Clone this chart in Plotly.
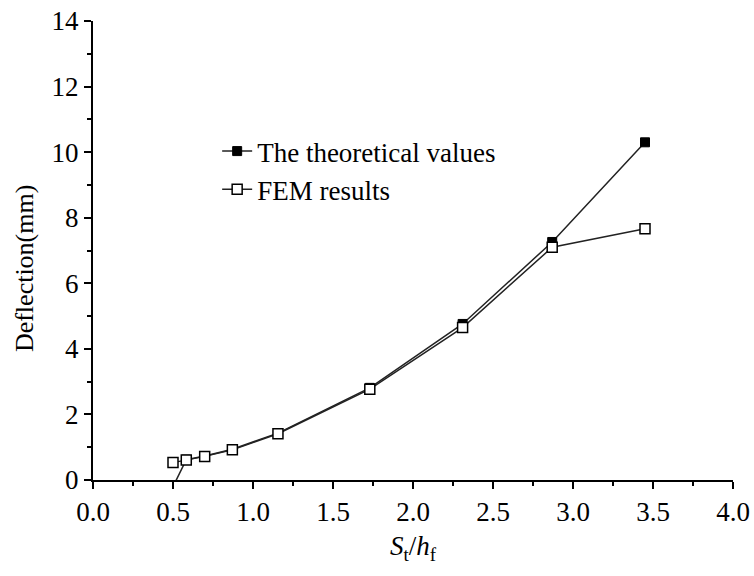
import plotly.graph_objects as go

ratio = [0.47, 0.583, 0.698, 0.871, 1.156, 1.73, 2.31, 2.87, 3.45]
theory = [-0.5, 0.62, 0.73, 0.94, 1.43, 2.81, 4.76, 7.26, 10.3]
fem_ratio = [0.5, 0.583, 0.698, 0.871, 1.156, 1.73, 2.31, 2.87, 3.45]
fem = [0.53, 0.61, 0.72, 0.92, 1.41, 2.77, 4.65, 7.1, 7.66]

font = "Liberation Serif, Times New Roman, serif"

fig = go.Figure()
fig.add_trace(go.Scatter(
    x=ratio, y=theory, mode="lines+markers", name="The theoretical values",
    line=dict(color="#222", width=1.5),
    marker=dict(symbol="square", size=9, color="black", line=dict(color="black", width=1)),
    cliponaxis=True,
))
fig.add_trace(go.Scatter(
    x=fem_ratio, y=fem, mode="lines+markers", name="FEM results",
    line=dict(color="#222", width=1.5),
    marker=dict(symbol="square", size=10, color="white", line=dict(color="black", width=1.5)),
    cliponaxis=True,
))

axis_common = dict(
    showline=True, linecolor="black", linewidth=2, mirror=False,
    ticks="outside", ticklen=7, tickwidth=2, tickcolor="black",
    showgrid=False, zeroline=False, automargin=False,
    tickfont=dict(family=font, size=27, color="black"),
)

fig.update_layout(
    width=754, height=576,
    margin=dict(l=93, r=21, t=21, b=96),
    plot_bgcolor="white", paper_bgcolor="white",
    font=dict(family=font, color="black"),
    xaxis=dict(
        range=[0, 4.0], tickvals=[0, 0.5, 1, 1.5, 2, 2.5, 3, 3.5, 4],
        ticktext=["0.0", "0.5", "1.0", "1.5", "2.0", "2.5", "3.0", "3.5", "4.0"],
        minor=dict(tickvals=[0.25, 0.75, 1.25, 1.75, 2.25, 2.75, 3.25, 3.75],
                   ticks="outside", ticklen=4, tickwidth=2, tickcolor="black"),
        title=dict(text="<i>S</i><sub>t</sub>/<i>h</i><sub>f</sub>",
                   font=dict(family=font, size=27, color="black"), standoff=10),
        **axis_common,
    ),
    yaxis=dict(
        range=[0, 14], tickvals=[0, 2, 4, 6, 8, 10, 12, 14],
        minor=dict(tickvals=[1, 3, 5, 7, 9, 11, 13],
                   ticks="outside", ticklen=4, tickwidth=2, tickcolor="black"),
        **axis_common,
    ),
    legend=dict(
        x=0.194, y=0.769, xanchor="left", yanchor="top",
        bgcolor="rgba(0,0,0,0)", borderwidth=0,
        font=dict(family=font, size=27, color="black"),
        itemwidth=30, tracegroupgap=0,
    ),
    showlegend=True,
    annotations=[dict(
        text="Deflection(mm)", textangle=-90, showarrow=False,
        xref="paper", yref="paper", x=-0.106, y=0.462,
        xanchor="center", yanchor="middle",
        font=dict(family=font, size=26, color="black"),
    )],
)

fig.write_html("out.html")
